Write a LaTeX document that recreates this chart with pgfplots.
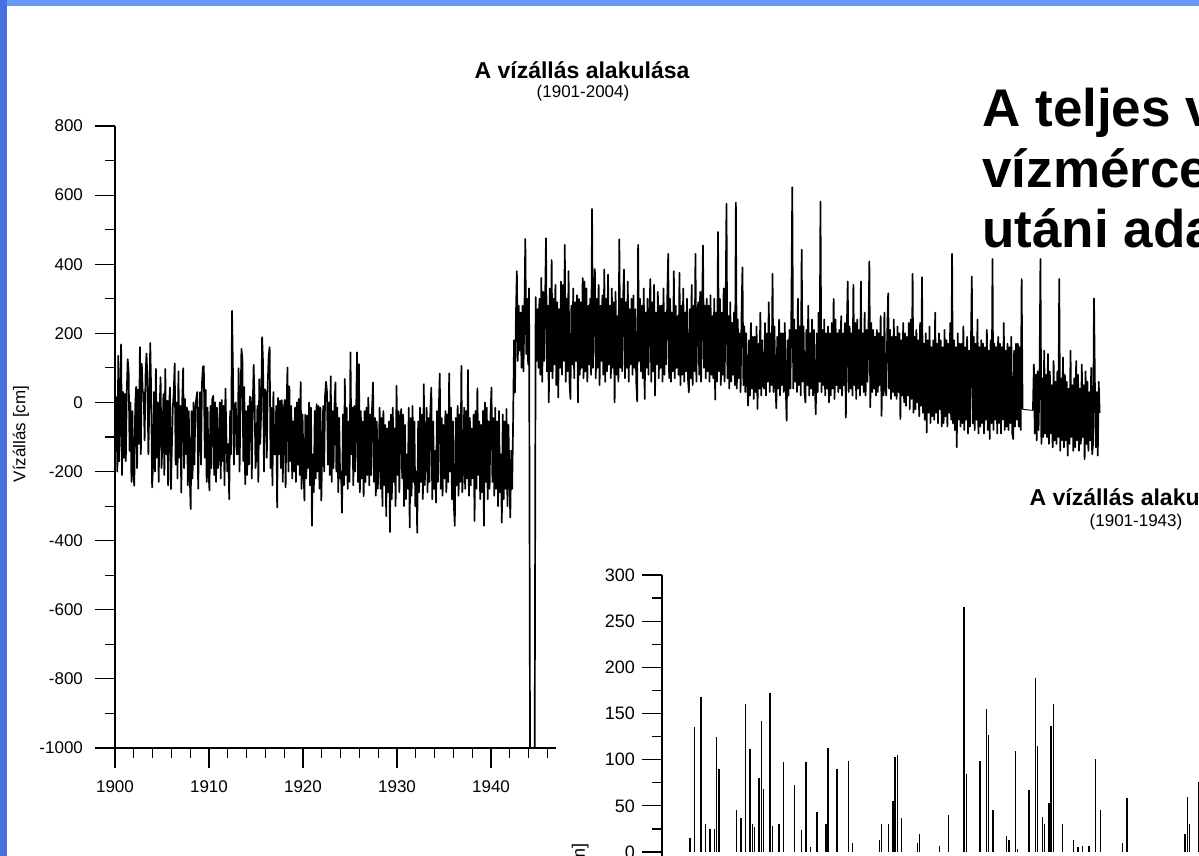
\documentclass[border=0pt]{standalone}
\usepackage{pgfplots}
\pgfplotsset{compat=1.18}
\usepackage{pgfplotstable}
\usepackage{fontspec}
\setmainfont{Liberation Sans}
\definecolor{topblue}{RGB}{104,152,250}
\definecolor{leftblue}{RGB}{72,110,224}

\pgfplotstableread[row sep=\\]{
v\\
-135\\ 15\\ -200\\ 135\\ -170\\ -10\\ 168\\ -210\\ 30\\ -160\\
25\\ -170\\ 25\\ 125\\ 90\\ -140\\ 0\\ -230\\ -25\\ -205\\
-241\\ -10\\ 45\\ -190\\ 37\\ -120\\ 160\\ -150\\ 112\\ 30\\
27\\ -110\\ 80\\ 142\\ 68\\ -150\\ -10\\ 172\\ 28\\ -246\\
-180\\ 30\\ -200\\ 97\\ -160\\ 0\\ -230\\ -15\\ 73\\ -190\\
-120\\ 24\\ -210\\ 97\\ -150\\ 5\\ -240\\ -10\\ 43\\ -251\\
-130\\ -15\\ 30\\ 113\\ -180\\ 0\\ -220\\ 90\\ -160\\ -10\\
-261\\ 0\\ 99\\ -190\\ 10\\ -150\\ -15\\ -240\\ -25\\ -210\\
-309\\ -25\\ -220\\ 0\\ -180\\ -19\\ 13\\ 30\\ -250\\ -55\\
30\\ -180\\ 55\\ 103\\ 105\\ -160\\ 37\\ -230\\ -15\\ -200\\
-255\\ -10\\ -190\\ 10\\ 19\\ -210\\ 0\\ -230\\ -15\\ -190\\
-150\\ 0\\ -220\\ 7\\ -170\\ -10\\ -240\\ 40\\ -100\\ -200\\
-120\\ -280\\ -25\\ -150\\ 265\\ 85\\ -180\\ -10\\ 0\\ -150\\
-150\\ 99\\ -200\\ -15\\ 155\\ 127\\ -170\\ 45\\ -237\\ -25\\
-210\\ -10\\ -180\\ 17\\ 13\\ -220\\ -15\\ 109\\ 3\\ -190\\
-150\\ -10\\ -230\\ 67\\ -120\\ -25\\ 189\\ 115\\ -200\\ 38\\
30\\ -160\\ 53\\ 136\\ 160\\ -190\\ -15\\ -240\\ 30\\ -150\\
-150\\ -10\\ -304\\ 13\\ -150\\ 5\\ -190\\ 7\\ -230\\ -25\\
7\\ -246\\ -15\\ 101\\ -200\\ 46\\ -170\\ -10\\ -220\\ -55\\
-200\\ -15\\ -230\\ 0\\ -180\\ 10\\ -210\\ 59\\ -250\\ -35\\
-180\\ -284\\ -35\\ -220\\ -38\\ -190\\ 0\\ -240\\ -15\\ -357\\
-150\\ -260\\ -25\\ -220\\ -5\\ -200\\ -10\\ -250\\ -15\\ -284\\
-120\\ -10\\ -200\\ 20\\ 60\\ 30\\ -180\\ 0\\ -210\\ 76\\
-230\\ -25\\ -190\\ -10\\ 58\\ -200\\ -15\\ -260\\ -45\\ -220\\
-200\\ -319\\ -35\\ -240\\ 68\\ -210\\ -15\\ -250\\ -55\\ -230\\
145\\ -150\\ -15\\ -240\\ -10\\ -200\\ -35\\ 145\\ -230\\ 111\\
-260\\ -25\\ -220\\ -55\\ -271\\ -25\\ -230\\ -15\\ -210\\ 14\\
-240\\ -35\\ -210\\ -15\\ 58\\ -230\\ -45\\ -270\\ -55\\ -250\\
-180\\ -15\\ -250\\ -45\\ -300\\ -25\\ -240\\ -65\\ -329\\ -75\\
-260\\ -55\\ -375\\ -35\\ -280\\ -15\\ -230\\ -75\\ -300\\ 48\\
-210\\ -25\\ -260\\ -45\\ -19\\ -220\\ -35\\ -300\\ -65\\ -280\\
-150\\ -250\\ -15\\ -362\\ -45\\ -270\\ -10\\ -230\\ -55\\ -300\\
-200\\ -377\\ -55\\ -260\\ -15\\ -230\\ -35\\ -280\\ 53\\ -240\\
-150\\ -15\\ -260\\ -45\\ -230\\ -25\\ 43\\ -280\\ -55\\ -250\\
-140\\ -290\\ -25\\ -230\\ -15\\ 84\\ -250\\ -45\\ -270\\ -65\\
-220\\ -25\\ -260\\ -35\\ -230\\ 84\\ -200\\ -15\\ -280\\ -55\\
-300\\ -357\\ -45\\ -240\\ -10\\ -270\\ -35\\ -230\\ 106\\ -260\\
-180\\ -15\\ -250\\ -25\\ -220\\ 94\\ -270\\ -45\\ -240\\ -75\\
-220\\ -35\\ -343\\ -25\\ -250\\ 41\\ -210\\ -55\\ -280\\ -65\\
-260\\ -25\\ -357\\ 0\\ -230\\ -15\\ -280\\ -55\\ -250\\ -35\\
43\\ -230\\ -45\\ -270\\ -15\\ -250\\ -55\\ -300\\ -25\\ -260\\
-150\\ -348\\ -35\\ -280\\ -55\\ -250\\ -19\\ -300\\ -65\\ -200\\
-333\\ -140\\ -250\\ -60\\ 180\\ 29\\ 250\\ 380\\ 120\\ 280\\
150\\ 260\\ 100\\ 280\\ 90\\ 250\\ 473\\ 140\\ 300\\ 110\\
330\\ -1000\\ -1000\\ -1000\\ -1000\\ -1000\\ -1000\\ 305\\ 120\\ 270\\
100\\ 300\\ 80\\ 360\\ 60\\ 320\\ 120\\ 280\\ 475\\ 90\\
280\\ 0\\ 330\\ 90\\ 412\\ 70\\ 300\\ 110\\ 340\\ 50\\
290\\ 14\\ 270\\ 100\\ 350\\ 80\\ 340\\ 120\\ 456\\ 60\\
300\\ 90\\ 380\\ 60\\ 10\\ 280\\ 110\\ 330\\ 70\\ 290\\
120\\ 310\\ 0\\ 300\\ 80\\ 290\\ 100\\ 360\\ 70\\ 350\\
90\\ 330\\ 60\\ 280\\ 110\\ 300\\ 80\\ 560\\ 100\\ 310\\
386\\ 70\\ 300\\ 100\\ 340\\ 50\\ 280\\ 120\\ 310\\ 80\\
385\\ 60\\ 300\\ 90\\ 370\\ 110\\ 280\\ 70\\ 330\\ 100\\
290\\ 0\\ 320\\ 80\\ 250\\ 60\\ 472\\ 100\\ 300\\ 90\\
300\\ 385\\ 70\\ 290\\ 100\\ 350\\ 60\\ 270\\ 110\\ 300\\
80\\ 310\\ 100\\ 270\\ 60\\ 3\\ 456\\ 120\\ 300\\ 90\\
280\\ 70\\ 330\\ 10\\ 260\\ 100\\ 300\\ 80\\ 250\\ 357\\
60\\ 290\\ 90\\ 340\\ 20\\ 260\\ 110\\ 320\\ 70\\ 280\\
100\\ 280\\ 60\\ 330\\ 80\\ 260\\ 110\\ 300\\ 430\\ 70\\
300\\ 60\\ 260\\ 90\\ 380\\ 70\\ 280\\ 100\\ 250\\ 80\\
375\\ 50\\ 280\\ 80\\ 330\\ 60\\ 260\\ 90\\ 300\\ 70\\
29\\ 270\\ 70\\ 340\\ 50\\ 280\\ 90\\ 430\\ 60\\ 260\\
290\\ 80\\ 320\\ 60\\ 260\\ 454\\ 100\\ 280\\ 70\\ 300\\
90\\ 280\\ 60\\ 310\\ 80\\ 250\\ 70\\ 300\\ 8\\ 260\\
60\\ 493\\ 90\\ 300\\ 50\\ 260\\ 80\\ 330\\ 60\\ 240\\
575\\ 70\\ 250\\ 40\\ 290\\ 60\\ 230\\ 80\\ 260\\ 50\\
578\\ 40\\ 240\\ 70\\ 200\\ 30\\ 250\\ 391\\ 50\\ 220\\
30\\ 200\\ 60\\ -9\\ 180\\ 20\\ 230\\ 40\\ 190\\ 10\\
190\\ 30\\ 220\\ -19\\ 170\\ 40\\ 260\\ 20\\ 180\\ 50\\
40\\ 230\\ 20\\ 200\\ 60\\ 290\\ 30\\ 200\\ 50\\ 372\\
30\\ 220\\ 60\\ -17\\ 190\\ 40\\ 240\\ 20\\ 200\\ 50\\
200\\ 30\\ 230\\ 50\\ -53\\ 180\\ 20\\ 210\\ 40\\ 260\\
623\\ 40\\ 240\\ 60\\ 210\\ 30\\ 300\\ 50\\ 220\\ 20\\
442\\ 60\\ 220\\ 30\\ 0\\ 210\\ 50\\ 280\\ 20\\ 200\\
40\\ 240\\ 20\\ 210\\ 50\\ -34\\ 200\\ 30\\ 260\\ 60\\
581\\ 30\\ 210\\ 50\\ 240\\ 20\\ 200\\ 40\\ 220\\ 0\\
200\\ 20\\ 230\\ 40\\ 300\\ 10\\ 240\\ 50\\ 200\\ 30\\
210\\ 40\\ 250\\ 20\\ 200\\ 50\\ 230\\ -44\\ 210\\ 350\\
30\\ 220\\ 40\\ 200\\ 20\\ 340\\ 50\\ 230\\ 10\\ 240\\
40\\ 210\\ 20\\ 350\\ 50\\ 200\\ 30\\ 260\\ 20\\ 210\\
60\\ 200\\ 408\\ -14\\ 230\\ 30\\ 210\\ 40\\ 190\\ 20\\
210\\ 30\\ 200\\ 50\\ 250\\ -39\\ 190\\ 20\\ 260\\ 40\\
20\\ 200\\ 316\\ 40\\ 210\\ 10\\ 190\\ 30\\ 240\\ 20\\
190\\ 10\\ 220\\ 30\\ 200\\ -48\\ 180\\ 20\\ 230\\ 0\\
200\\ -10\\ 190\\ 20\\ 230\\ -20\\ 240\\ 10\\ 372\\ -30\\
190\\ -20\\ 210\\ 0\\ 180\\ -40\\ 230\\ -10\\ 362\\ -30\\
170\\ -50\\ 200\\ -87\\ 180\\ -30\\ 220\\ -60\\ 160\\ -40\\
180\\ -50\\ 260\\ -30\\ 170\\ -60\\ 200\\ -20\\ 180\\ -70\\
160\\ -60\\ 210\\ -40\\ 180\\ -70\\ 170\\ -30\\ 230\\ -50\\
430\\ -60\\ 180\\ -80\\ 160\\ -130\\ 200\\ -50\\ 170\\ -70\\
170\\ -60\\ 220\\ -80\\ 160\\ -50\\ 190\\ -90\\ 150\\ -70\\
160\\ 364\\ -60\\ 190\\ -80\\ 170\\ -50\\ 240\\ -90\\ 160\\
-70\\ 180\\ -60\\ 170\\ -90\\ 160\\ -50\\ 210\\ -80\\ 150\\
-106\\ 180\\ -60\\ 415\\ -80\\ 170\\ -50\\ 160\\ -90\\ 190\\
-60\\ 170\\ -90\\ 160\\ -50\\ 230\\ -80\\ 150\\ -70\\ 170\\
-80\\ 160\\ -60\\ 190\\ -90\\ -106\\ 150\\ -70\\ 170\\ -50\\
170\\ -70\\ 160\\ -80\\ 357\\ -20\\
}\dataA

\pgfplotstableread[row sep=\\]{
v\\
-23\\ 110\\ -90\\ 80\\
-110\\ 90\\ -80\\ 60\\ 415\\ -120\\ 70\\ -100\\ 150\\ -90\\
80\\ -100\\ 140\\ -120\\ 90\\ -90\\ 50\\ -130\\ 120\\ -110\\
60\\ -120\\ 90\\ -100\\ 357\\ -140\\ 70\\ -110\\ 130\\ -130\\
80\\ -110\\ 60\\ -154\\ 40\\ -120\\ 150\\ -100\\ 50\\ -140\\
70\\ -130\\ 120\\ -110\\ 80\\ -140\\ 40\\ -120\\ 110\\ -100\\
50\\ -164\\ 90\\ -120\\ 60\\ -140\\ 30\\ -110\\ 100\\ -150\\
-120\\ 301\\ 40\\ -130\\ 30\\ -154\\ 60\\ -30\\
}\dataB

\begin{document}
\begin{tikzpicture}[x=1pt,y=1pt]
\useasboundingbox (0,0) rectangle (599.5,428);
\fill[white] (0,0) rectangle (599.5,428);
\begin{scope}
\clip (0,0) rectangle (599.5,428);

\begin{axis}[
  at={(57.5pt,54pt)}, anchor=south west,
  scale only axis, width=498.2pt, height=311pt,
  xmin=1900, xmax=2006, ymin=-1000, ymax=800,
  axis lines=left, axis line style={-, line width=0.65pt, black},
  clip=false,
  xtick={1900,1910,...,2000}, minor x tick num=4,
  ytick={-1000,-800,...,800}, minor y tick num=1,
  tick align=outside, major tick length=10pt, minor tick length=5pt,
  every tick/.style={black, line width=0.6pt},
  /pgf/number format/1000 sep={},
  /pgf/number format/assume math mode=true,
  ticklabel style={font=\fontsize{8.5}{10}\selectfont},
  xticklabel style={yshift=-3pt},
  yticklabel style={xshift=-2.5pt},
]
\addplot[black, line width=0.85pt, line join=round] table[x expr={1900.05+0.1*\coordindex}, y=v]{\dataA};
\addplot[black, line width=0.45pt] coordinates {(1996.55,-20) (1997.65,-23)};
\addplot[black, line width=0.85pt, line join=round] table[x expr={1997.65+0.1*\coordindex}, y=v]{\dataB};
\end{axis}
\node[inner sep=0, anchor=base, font=\bfseries\fontsize{11.5}{13}\selectfont] at (291,388.5) {A vízállás alakulása};
\node[inner sep=0, anchor=base, font=\fontsize{8.5}{10}\selectfont] at (291.5,379) {(1901-2004)};
\node[inner sep=0, rotate=90, font=\fontsize{8.5}{10}\selectfont] at (10.5,211) {Vízállás [cm]};

\fill[white] (278,0) rectangle (599.5,193);
\begin{axis}[
  at={(331pt,-182.7pt)}, anchor=south west,
  scale only axis, width=502.9pt, height=323.2pt,
  xmin=1898.9, xmax=1944, ymin=-400, ymax=300,
  axis lines=left, axis line style={-, line width=0.65pt, black},
  xtick=\empty,
  ytick={0,50,...,300}, minor y tick num=1,
  tick align=outside, major tick length=10pt, minor tick length=5pt,
  every tick/.style={black, line width=0.6pt},
  /pgf/number format/1000 sep={},
  /pgf/number format/assume math mode=true,
  ticklabel style={font=\fontsize{9}{10}\selectfont},
]
\addplot[black, line width=0.7pt, ycomb, restrict x to domain=1899:1925, restrict y to domain=0:400] table[x expr={1900.05+0.1*\coordindex}, y=v]{\dataA};
\end{axis}
\node[inner sep=0, anchor=base, font=\bfseries\fontsize{11.5}{13}\selectfont] at (568.5,175) {A vízállás alakulása};
\node[inner sep=0, anchor=base, font=\fontsize{8.5}{10}\selectfont] at (568,164.5) {(1901-1943)};
\node[inner sep=0, rotate=90, anchor=east, font=\fontsize{9}{10}\selectfont] at (290,6.5) {Vízállás [cm]};

\node[inner sep=0, anchor=base west, font=\bfseries\fontsize{26.5}{30}\selectfont] at (491,364.5) {A teljes vízállás};
\node[inner sep=0, anchor=base west, font=\bfseries\fontsize{26.5}{30}\selectfont] at (491,334) {vízmérce áthelyezés};
\node[inner sep=0, anchor=base west, font=\bfseries\fontsize{26.5}{30}\selectfont] at (491,304) {utáni adatai};

\fill[topblue] (0,425) rectangle (599.5,428);
\fill[leftblue] (0,0) rectangle (3.5,428);
\end{scope}
\end{tikzpicture}
\end{document}
